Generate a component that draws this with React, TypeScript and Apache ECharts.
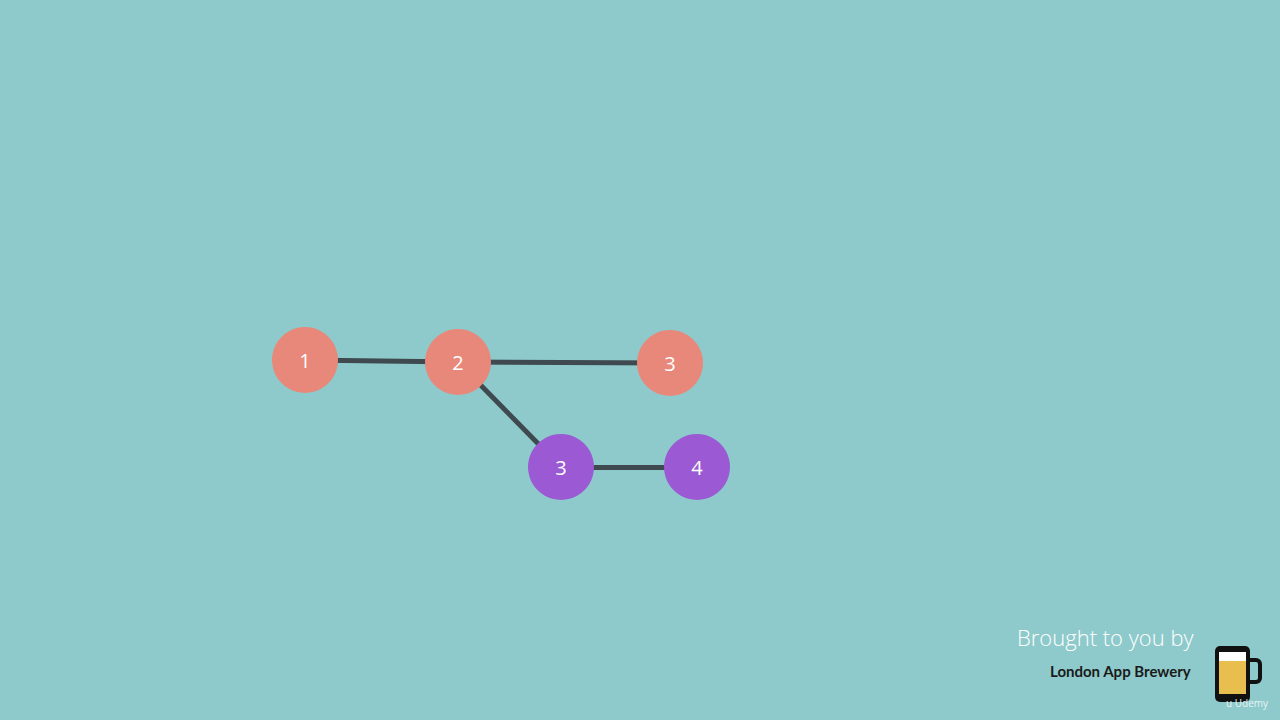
import * as echarts from 'echarts';
import { useEffect, useRef } from 'react';

const nodeNames = ['1', '2', '3', '3b', '4'];
const nodeLabels = ['1', '2', '3', '3', '4'];
const nodeX = [305, 458, 670, 561, 697];
const nodeY = [360, 362, 363, 467, 467];
const nodeGroup = [0, 0, 0, 1, 1];
const edges: [string, string][] = [
  ['1', '2'],
  ['2', '3'],
  ['2', '3b'],
  ['3b', '4'],
];

const COLORS = ['#E8887A', '#9B59D3'];

export default function App() {
  const ref = useRef<HTMLDivElement | null>(null);

  useEffect(() => {
    document.body.style.margin = '0';
    if (!ref.current) return undefined;
    const chart = echarts.init(ref.current, undefined, { renderer: 'svg' });
    chart.setOption({
      animation: false,
      backgroundColor: '#8ECACB',
      grid: { left: 0, right: 0, top: 0, bottom: 0 },
      xAxis: { type: 'value', min: 0, max: 1280, show: false },
      yAxis: { type: 'value', min: 0, max: 720, inverse: true, show: false },
      series: [
        {
          type: 'graph',
          coordinateSystem: 'cartesian2d',
          symbolSize: 66,
          data: nodeNames.map((n, i) => ({
            name: n,
            value: [nodeX[i], nodeY[i]],
            itemStyle: { color: COLORS[nodeGroup[i]] },
            label: {
              show: true,
              formatter: nodeLabels[i],
              color: '#fff',
              fontSize: 20,
              fontFamily: 'Open Sans',
            },
          })),
          links: edges.map(([s, t]) => ({ source: s, target: t })),
          lineStyle: { color: '#3E4A50', width: 5, opacity: 1, curveness: 0 },
        },
      ],
      graphic: [
        {
          type: 'text', left: 1017, top: 626,
          style: { text: 'Brought to you by', fill: '#fff', fontSize: 22, fontFamily: 'Open Sans', fontWeight: 300 },
        },
        {
          type: 'text', left: 1050, top: 663,
          style: { text: 'London App Brewery', fill: '#1a1a1a', fontSize: 15, fontFamily: 'Lato', fontWeight: 'bold' },
        },
        { type: 'rect', shape: { x: 1242, y: 660, width: 18, height: 22, r: 4 }, style: { fill: 'none', stroke: '#111', lineWidth: 4 } },
        { type: 'rect', shape: { x: 1215, y: 646, width: 35, height: 56, r: 5 }, style: { fill: '#111' } },
        { type: 'rect', shape: { x: 1219, y: 652, width: 27, height: 42 }, style: { fill: '#E8BE4E' } },
        { type: 'rect', shape: { x: 1219, y: 652, width: 27, height: 9 }, style: { fill: '#fff' } },
        {
          type: 'text', left: 1226, top: 698,
          style: { text: 'u Udemy', fill: '#e8f4f4', fontSize: 10, fontFamily: 'Open Sans' },
        },
      ],
    });
    return () => chart.dispose();
  }, []);

  return <div ref={ref} style={{ width: 1280, height: 720 }} />;
}
